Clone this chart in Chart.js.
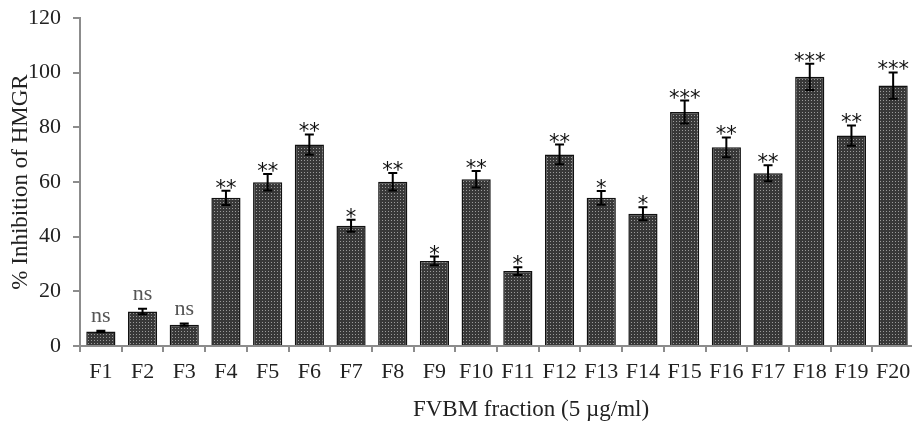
<!DOCTYPE html>
<html>
<head>
<meta charset="utf-8">
<script src="https://cdn.jsdelivr.net/npm/chart.js@4"></script>
<style>
html,body{margin:0;padding:0;background:#fff;overflow:hidden;}
#wrap{width:916px;height:423px;}
</style>
</head>
<body>
<div id="wrap"><canvas id="c" width="916" height="423"></canvas></div>
<script>
const categories = ['F1','F2','F3','F4','F5','F6','F7','F8','F9','F10','F11','F12','F13','F14','F15','F16','F17','F18','F19','F20'];
const inhibition = [5.3, 12.6, 7.8, 54.2, 59.9, 73.7, 44.0, 60.1, 31.1, 61.0, 27.4, 70.1, 54.2, 48.4, 85.6, 72.7, 63.2, 98.5, 77.0, 95.3];
const errors = [0.3, 1.0, 0.4, 2.6, 3.0, 3.7, 2.2, 3.2, 1.6, 3.0, 1.4, 3.6, 2.5, 2.4, 4.2, 3.6, 2.9, 4.8, 3.7, 4.8];
const significance = ['ns','ns','ns','**','**','**','*','**','*','**','*','**','*','*','***','**','**','***','**','***'];
const yTicks = [0, 20, 40, 60, 80, 100, 120];
const xTitle = 'FVBM fraction (5 \u00b5g/ml)';
const yTitle = '% Inhibition of HMGR';

// dotted fill pattern
const pc = document.createElement('canvas');
pc.width = 3; pc.height = 3;
const pctx = pc.getContext('2d');
pctx.fillStyle = '#383838';
pctx.fillRect(0, 0, 3, 3);
pctx.fillStyle = '#9a9a9a';
pctx.fillRect(1, 1, 1, 1);
const ctxMain = document.getElementById('c').getContext('2d');
const barPattern = ctxMain.createPattern(pc, 'repeat');

const SERIF = '"Liberation Serif", "Times New Roman", serif';

const overlay = {
  id: 'overlay',
  afterDatasetsDraw(chart) {
    const ctx = chart.ctx;
    const meta = chart.getDatasetMeta(0);
    const y = chart.scales.y;
    ctx.save();
    meta.data.forEach((bar, i) => {
      const v = inhibition[i], e = errors[i];
      const x = bar.x;
      const yTop = y.getPixelForValue(v + e);
      const yBot = y.getPixelForValue(v - e);
      // error bar
      ctx.strokeStyle = '#000';
      ctx.lineWidth = 2;
      ctx.beginPath();
      ctx.moveTo(x, yTop); ctx.lineTo(x, yBot);
      ctx.moveTo(x - 4.5, yTop); ctx.lineTo(x + 4.5, yTop);
      ctx.moveTo(x - 4.5, yBot); ctx.lineTo(x + 4.5, yBot);
      ctx.stroke();
      // significance label
      const s = significance[i];
      ctx.textAlign = 'center';
      ctx.textBaseline = 'alphabetic';
      if (s === 'ns') {
        ctx.font = '22px ' + SERIF;
        ctx.fillStyle = '#555';
        ctx.fillText(s, x, yTop - 9);
      } else {
        ctx.font = '21px "DejaVu Sans", sans-serif';
        ctx.fillStyle = '#111';
        ctx.fillText(s, x, yTop + 4);
      }
    });
    // x axis title
    const ca = chart.chartArea;
    ctx.font = '23px ' + SERIF;
    ctx.fillStyle = '#222';
    ctx.textAlign = 'center';
    ctx.textBaseline = 'middle';
    ctx.fillText(xTitle, (ca.left + ca.right) / 2 + 34, 410);
    ctx.restore();
  }
};

new Chart(ctxMain, {
  type: 'bar',
  data: {
    labels: categories,
    datasets: [{
      data: inhibition,
      backgroundColor: barPattern,
      borderColor: '#111',
      borderWidth: 1.5,
      barPercentage: 0.7,
      categoryPercentage: 1.0
    }]
  },
  options: {
    responsive: false,
    animation: false,
    layout: { padding: { top: 18, right: 2, left: 0, bottom: 0 } },
    plugins: { legend: { display: false }, tooltip: { enabled: false } },
    scales: {
      x: {
        offset: true,
        border: { color: '#8c8c8c', width: 2 },
        grid: { offset: true, drawOnChartArea: false, drawTicks: true, tickLength: 6, color: '#8c8c8c', lineWidth: 2 },
        ticks: { color: '#222', font: { family: SERIF, size: 22 }, padding: 7, maxRotation: 0, autoSkip: false },
        afterFit(scale) { scale.height = 77; scale.paddingLeft = 0; scale.paddingRight = 0; }
      },
      y: {
        min: 0, max: 120,
        afterBuildTicks(scale) { scale.ticks = yTicks.map(v => ({ value: v })); },
        border: { color: '#8c8c8c', width: 2 },
        grid: { drawOnChartArea: false, drawTicks: true, tickLength: 7, color: '#8c8c8c', lineWidth: 2 },
        ticks: { color: '#222', font: { family: SERIF, size: 22 }, padding: 12 },
        title: { display: true, text: yTitle, color: '#222', font: { family: SERIF, size: 23 }, padding: { top: 7, bottom: 0 } },
        afterFit(scale) { scale.width = 80; scale.paddingTop = 0; scale.paddingBottom = 0; }
      }
    }
  },
  plugins: [overlay]
});
</script>
</body>
</html>
